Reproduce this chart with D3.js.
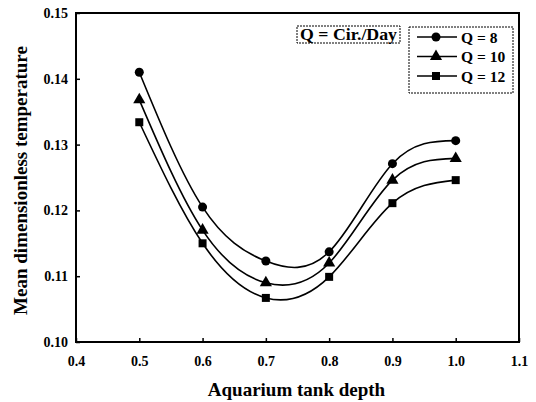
<!DOCTYPE html>
<html lang="en">
<head>
  <meta charset="UTF-8" />
  <title>Mean dimensionless temperature</title>
  <style>
    body { margin: 0; background: #fff; }
    text {
      font-family: "Liberation Serif", "Times New Roman", serif;
      font-weight: bold;
      fill: #000;
    }
    .tick text { font-size: 14px; }
    .axis-title { font-size: 19px; }
    .legend text { font-size: 15.5px; }
  </style>
</head>
<body>
  <svg width="536" height="402"></svg>

  <script src="https://d3js.org/d3.v7.min.js"></script>
  <script>
    // data
    const depth = [0.5, 0.6, 0.7, 0.8, 0.9, 1.0];
    const q8 = [0.1410, 0.1205, 0.1123, 0.1137, 0.1271, 0.1306];
    const q10 = [0.1368, 0.1170, 0.1090, 0.1120, 0.1246, 0.1279];
    const q12 = [0.1334, 0.1150, 0.1067, 0.1099, 0.1211, 0.1246];
    const seriesNames = ['Q = 8', 'Q = 10', 'Q = 12'];
    const markers = [d3.symbolCircle, d3.symbolTriangle, d3.symbolSquare];
    const xTicks = [0.4, 0.5, 0.6, 0.7, 0.8, 0.9, 1.0, 1.1];
    const yTicks = [0.10, 0.11, 0.12, 0.13, 0.14, 0.15];

    const series = [q8, q10, q12].map((vals, i) => ({
      name: seriesNames[i],
      symbol: markers[i],
      points: depth.map((d, j) => ({ x: d, y: vals[j] }))
    }));

    const svg = d3.select('svg');
    const mLeft = 76, mRight = 519, mTop = 13, mBottom = 342;

    const x = d3.scaleLinear().domain([0.4, 1.1]).range([mLeft, mRight]);
    const y = d3.scaleLinear().domain([0.10, 0.15]).range([mBottom, mTop]);

    // frame
    svg.append('rect')
      .attr('x', mLeft).attr('y', mTop)
      .attr('width', mRight - mLeft).attr('height', mBottom - mTop)
      .attr('fill', 'none').attr('stroke', '#000').attr('stroke-width', 2);

    // axes, ticks inward
    const xAxis = svg.append('g')
      .attr('transform', `translate(0,${mBottom})`)
      .call(d3.axisBottom(x).tickValues(xTicks).tickFormat(d3.format('.1f'))
        .tickSizeInner(-4).tickSizeOuter(0).tickPadding(14));
    const yAxis = svg.append('g')
      .attr('transform', `translate(${mLeft},0)`)
      .call(d3.axisLeft(y).tickValues(yTicks).tickFormat(d3.format('.2f'))
        .tickSizeInner(-4).tickSizeOuter(0).tickPadding(8));
    [xAxis, yAxis].forEach(a => {
      a.select('.domain').remove();
      a.selectAll('.tick line').attr('stroke-width', 1.5);
      a.attr('font-family', null).attr('font-size', null);
    });

    // axis titles
    svg.append('text')
      .attr('class', 'axis-title')
      .attr('x', (mLeft + mRight) / 2 - 1).attr('y', 396)
      .attr('text-anchor', 'middle')
      .text('Aquarium tank depth');
    svg.append('text')
      .attr('class', 'axis-title')
      .attr('transform', `translate(27,${(mTop + mBottom) / 2 + 3}) rotate(-90)`)
      .attr('text-anchor', 'middle')
      .text('Mean dimensionless temperature');

    // curves
    const line = d3.line()
      .x(d => x(d.x))
      .y(d => y(d.y))
      .curve(d3.curveNatural);

    const g = svg.append('g');
    g.selectAll('path.curve')
      .data(series)
      .join('path')
      .attr('class', 'curve')
      .attr('d', d => line(d.points))
      .attr('fill', 'none')
      .attr('stroke', '#000')
      .attr('stroke-width', 1.6);

    const sym = d3.symbol().size(64);
    series.forEach(s => {
      g.selectAll(null)
        .data(s.points)
        .join('path')
        .attr('transform', d => `translate(${x(d.x)},${y(d.y)})`)
        .attr('d', sym.type(s.symbol)())
        .attr('fill', '#000');
    });

    // title box
    const tb = svg.append('g').attr('class', 'legend');
    tb.append('rect')
      .attr('x', 297).attr('y', 26).attr('width', 103).attr('height', 17)
      .attr('fill', '#fff').attr('stroke', '#000').attr('stroke-width', 1)
      .attr('stroke-dasharray', '2,1');
    tb.append('text')
      .attr('x', 300).attr('y', 40)
      .attr('textLength', 97)
      .attr('lengthAdjust', 'spacingAndGlyphs')
      .style('font-size', '17px')
      .text('Q = Cir./Day');

    // legend
    const lg = svg.append('g').attr('class', 'legend');
    lg.append('rect')
      .attr('x', 409).attr('y', 27).attr('width', 104).attr('height', 66)
      .attr('fill', '#fff').attr('stroke', '#000').attr('stroke-width', 1)
      .attr('stroke-dasharray', '2,1');
    const item = lg.selectAll('g.item')
      .data(series)
      .join('g')
      .attr('class', 'item')
      .attr('transform', (d, i) => `translate(0,${37 + i * 19.5})`);
    item.append('line')
      .attr('x1', 417).attr('x2', 457)
      .attr('stroke', '#000').attr('stroke-width', 1.6);
    item.append('path')
      .attr('transform', 'translate(436,0)')
      .attr('d', d => sym.type(d.symbol)())
      .attr('fill', '#000');
    item.append('text')
      .attr('x', 461).attr('y', 5.5)
      .text(d => d.name);
  </script>
</body>
</html>
